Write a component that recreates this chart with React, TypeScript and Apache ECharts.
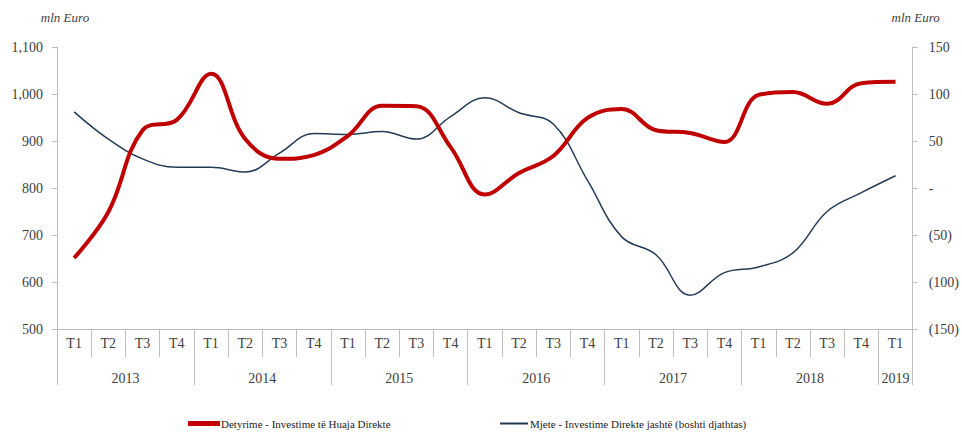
import React, { useEffect, useRef } from "react";
import * as echarts from "echarts";

const quarters = [
  "T1", "T2", "T3", "T4", "T1", "T2", "T3", "T4", "T1", "T2", "T3", "T4",
  "T1", "T2", "T3", "T4", "T1", "T2", "T3", "T4", "T1", "T2", "T3", "T4", "T1",
];
const years = ["2013", "2014", "2015", "2016", "2017", "2018", "2019"];
const quartersPerYear = [4, 4, 4, 4, 4, 4, 1];

const liabilities = [
  651, 749, 923, 945, 1043, 904, 862, 870, 911, 975, 974, 887, 786, 832, 868,
  949, 968, 923, 917, 898, 998, 1004, 979, 1023, 1026,
];
const assets = [
  81, 52, 31, 22, 22, 17, 37, 58, 57, 60, 52, 76, 96, 80, 68, 8, -52, -71,
  -114, -90, -84, -69, -25, -5, 13,
];

const leftTicks = { min: 500, max: 1100, interval: 100 };
const rightTicks = { min: -150, max: 150, interval: 50 };

const redName = "Detyrime - Investime të Huaja Direkte";
const blueName = "Mjete - Investime Direkte jashtë (boshti djathtas)";

const FONT = "Liberation Serif, serif";
const AXIS_COLOR = "#bfbfbf";
const TEXT_COLOR = "#404040";

export default function App() {
  const ref = useRef<HTMLDivElement>(null);

  useEffect(() => {
    document.body.style.margin = "0";
    if (!ref.current) return;
    const chart = echarts.init(ref.current, null, { renderer: "svg" });

    const boundaries: number[] = [0];
    const centers: number[] = [];
    let acc = 0;
    quartersPerYear.forEach((n) => {
      centers.push(acc + n / 2);
      acc += n;
      boundaries.push(acc);
    });

    const yearFor = (v: number) => {
      const i = centers.findIndex((c) => Math.abs(c - v) < 1e-6);
      return i >= 0 ? years[i] : "";
    };

    const legendText = { fontFamily: FONT, fontSize: 11, color: "#222" };

    chart.setOption({
      animation: false,
      backgroundColor: "#ffffff",
      textStyle: { fontFamily: FONT },
      grid: { left: 57, right: 47, top: 47, bottom: 103, containLabel: false },
      legend: [
        {
          data: [redName],
          left: 188,
          top: 418,
          padding: 0,
          itemWidth: 32,
          itemHeight: 5,
          icon: "rect",
          textStyle: { ...legendText, padding: [0, 0, 0, -4] },
        },
        {
          data: [blueName],
          left: 500,
          top: 418,
          padding: 0,
          itemWidth: 28,
          itemHeight: 2,
          icon: "rect",
          textStyle: { ...legendText, padding: [0, 0, 0, -3] },
        },
      ],
      xAxis: [
        {
          type: "category",
          data: quarters,
          boundaryGap: true,
          position: "bottom",
          axisLine: { show: true, onZero: false, lineStyle: { color: AXIS_COLOR, width: 1 } },
          axisTick: {
            show: true,
            interval: 0,
            length: 28,
            lineStyle: { color: AXIS_COLOR, width: 1 },
          },
          axisLabel: {
            interval: 0,
            margin: 7,
            fontFamily: FONT,
            fontSize: 14,
            color: TEXT_COLOR,
          },
          splitLine: { show: false },
        },
        {
          type: "value",
          min: 0,
          max: quarters.length,
          position: "bottom",
          axisLine: { show: false, onZero: false },
          axisTick: {
            show: true,
            customValues: boundaries,
            length: 56,
            lineStyle: { color: AXIS_COLOR, width: 1 },
          },
          axisLabel: {
            show: true,
            customValues: centers,
            margin: 42,
            fontFamily: FONT,
            fontSize: 14,
            color: TEXT_COLOR,
            formatter: (v: number) => yearFor(v),
          },
          splitLine: { show: false },
        },
      ],
      yAxis: [
        {
          type: "value",
          position: "left",
          min: leftTicks.min,
          max: leftTicks.max,
          interval: leftTicks.interval,
          name: "mln Euro",
          nameLocation: "end",
          nameGap: 23,
          nameTextStyle: {
            fontFamily: FONT,
            fontStyle: "italic",
            fontSize: 13,
            color: TEXT_COLOR,
            align: "center",
            padding: [0, 0, 0, 16],
          },
          axisLine: { show: true, lineStyle: { color: AXIS_COLOR, width: 1 } },
          axisTick: { show: true, length: 5, lineStyle: { color: AXIS_COLOR } },
          axisLabel: {
            margin: 14,
            fontFamily: FONT,
            fontSize: 14,
            color: TEXT_COLOR,
            formatter: (v: number) => v.toLocaleString("en-US"),
          },
          splitLine: { show: false },
        },
        {
          type: "value",
          position: "right",
          min: rightTicks.min,
          max: rightTicks.max,
          interval: rightTicks.interval,
          name: "mln Euro",
          nameLocation: "end",
          nameGap: 23,
          nameTextStyle: {
            fontFamily: FONT,
            fontStyle: "italic",
            fontSize: 13,
            color: TEXT_COLOR,
            align: "center",
            padding: [0, 0, 0, 6],
          },
          axisLine: { show: true, lineStyle: { color: AXIS_COLOR, width: 1 } },
          axisTick: { show: true, length: 5, lineStyle: { color: AXIS_COLOR } },
          axisLabel: {
            margin: 16,
            fontFamily: FONT,
            fontSize: 14,
            color: TEXT_COLOR,
            formatter: (v: number) =>
              v === 0 ? "-" : v < 0 ? `(${Math.abs(v)})` : String(v),
          },
          splitLine: { show: false },
        },
      ],
      series: [
        {
          name: redName,
          type: "line",
          xAxisIndex: 0,
          yAxisIndex: 0,
          data: liabilities,
          smooth: 0.4,
          symbol: "none",
          lineStyle: { color: "#c00000", width: 4 },
          itemStyle: { color: "#c00000" },
          z: 3,
        },
        {
          name: blueName,
          type: "line",
          xAxisIndex: 0,
          yAxisIndex: 1,
          data: assets,
          smooth: 0.4,
          symbol: "none",
          lineStyle: { color: "#243b58", width: 1.5 },
          itemStyle: { color: "#243b58" },
          z: 2,
        },
      ],
    });

    return () => chart.dispose();
  }, []);

  return <div ref={ref} style={{ width: 962, height: 432 }} />;
}
